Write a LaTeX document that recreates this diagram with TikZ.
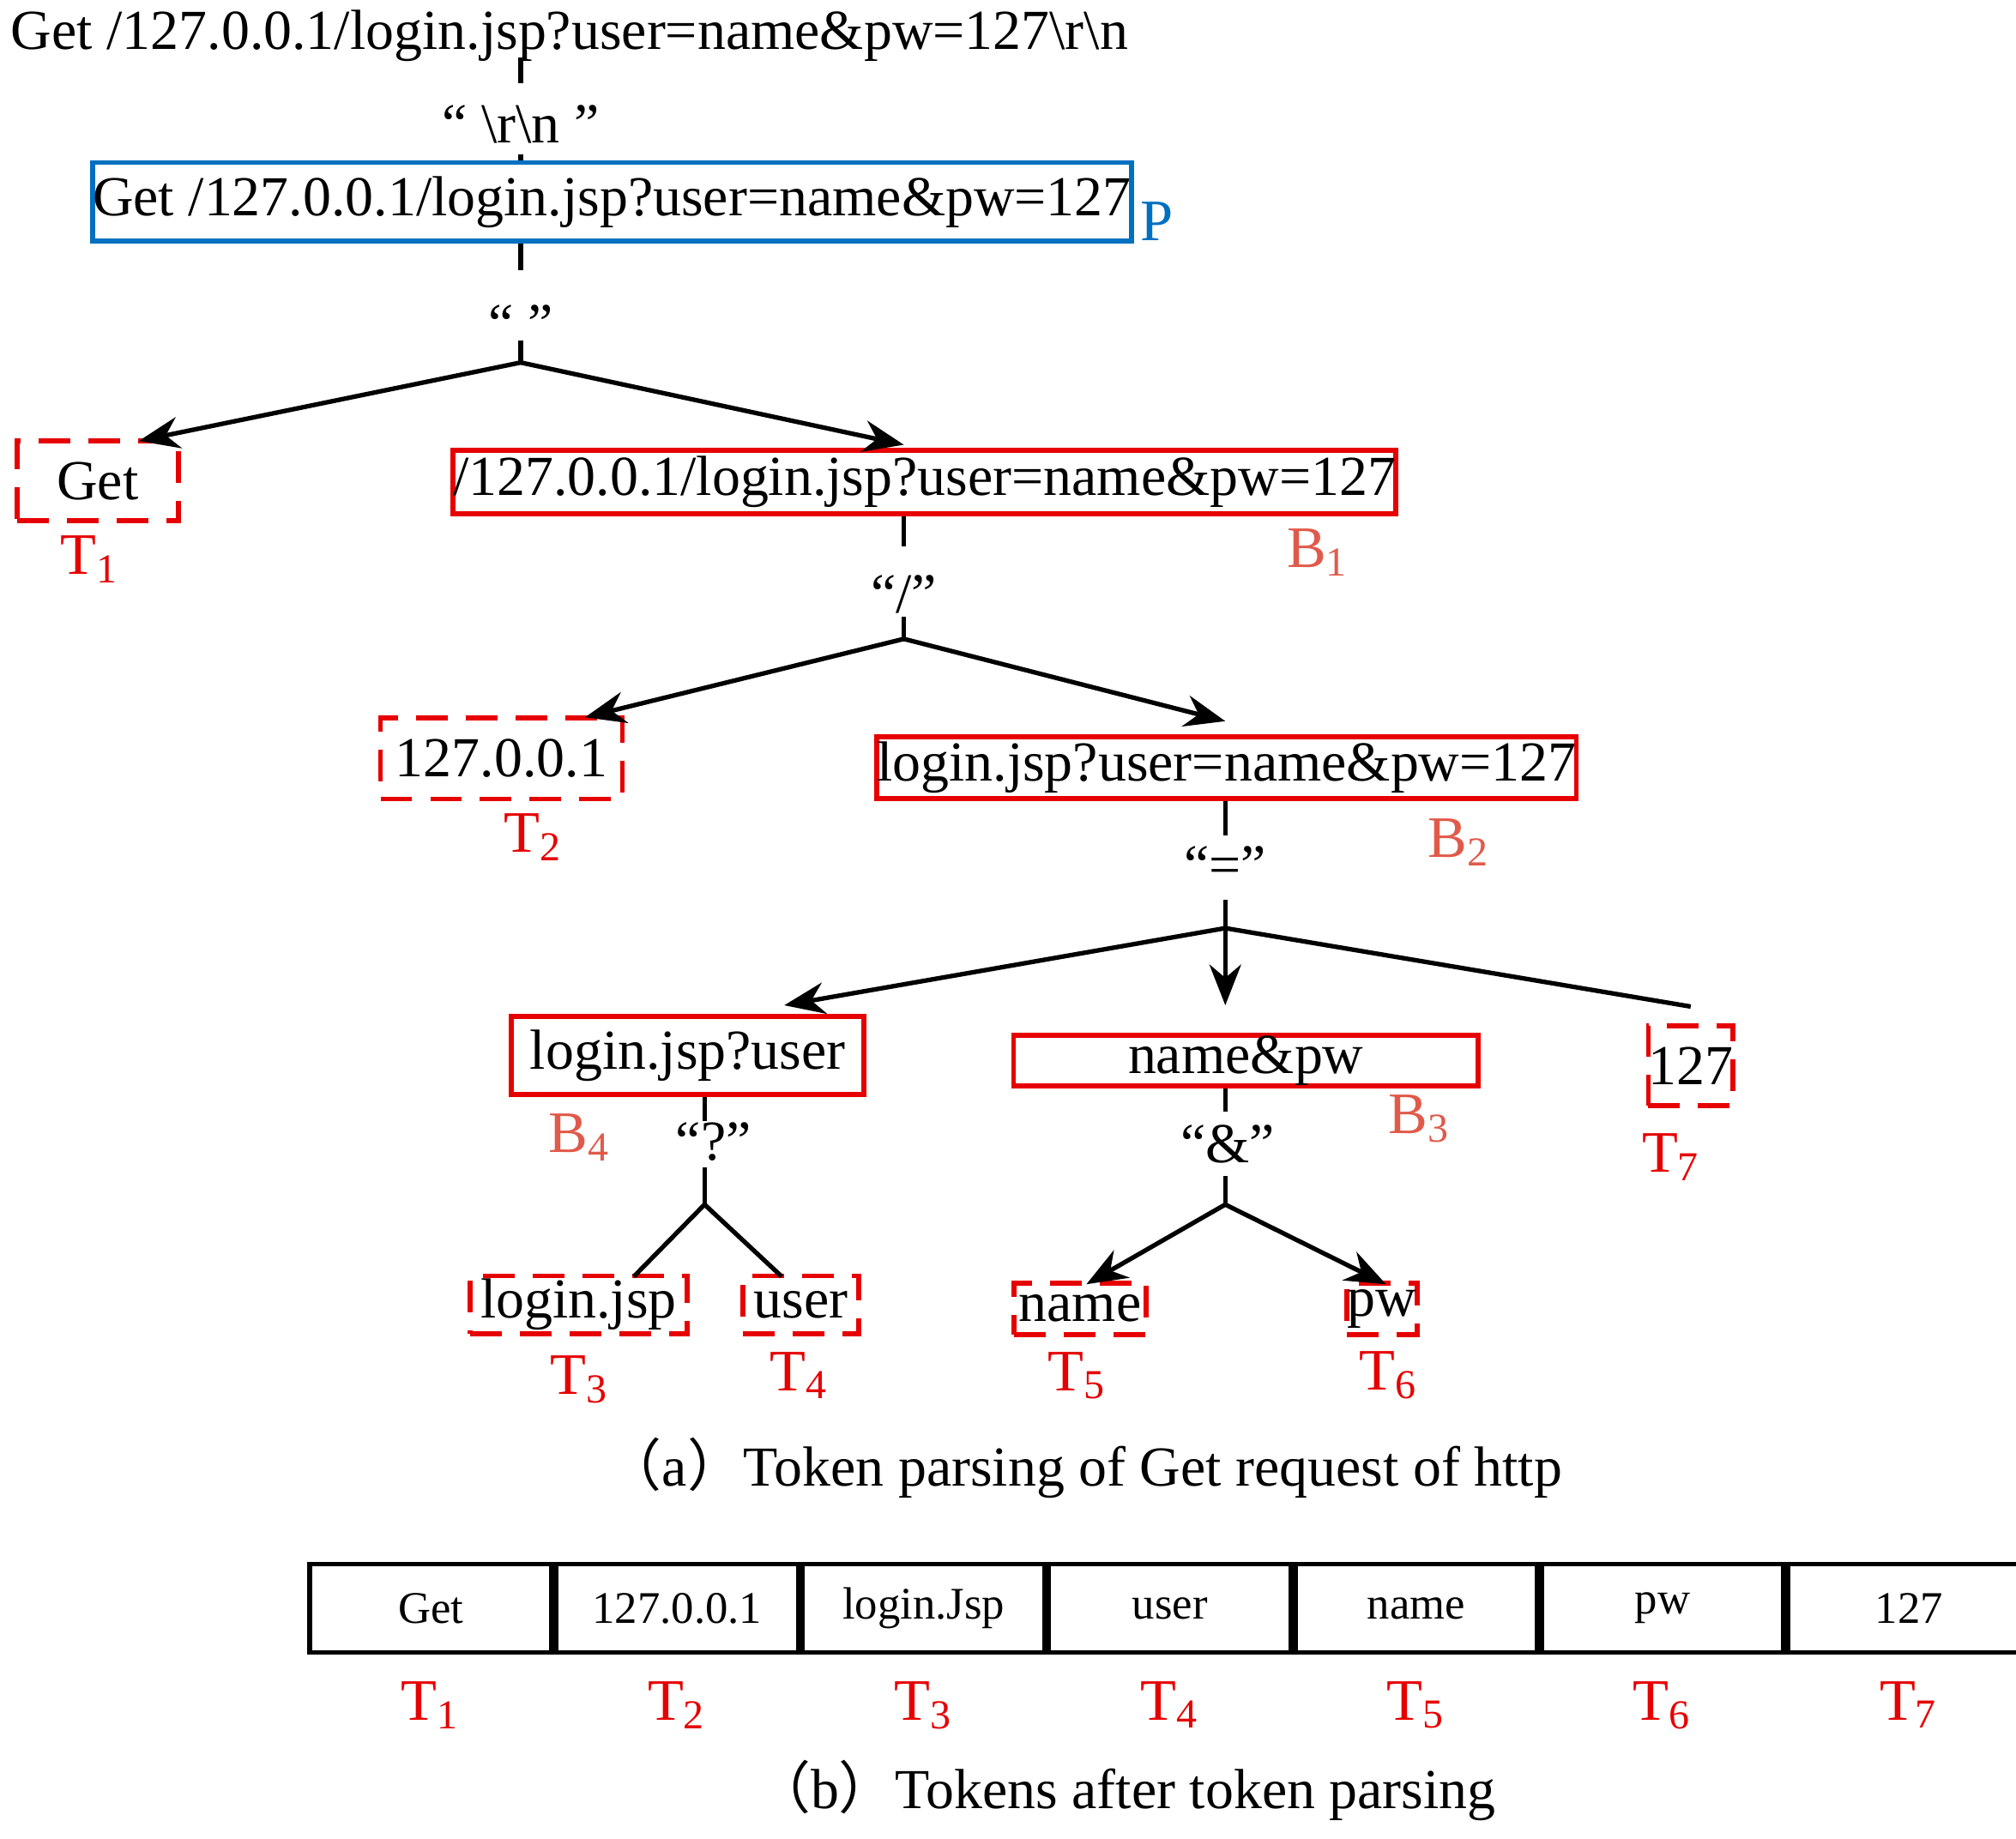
\documentclass[tikz,border=0pt]{standalone}
\usepackage{fontspec}
\setmainfont{Liberation Serif}
\newfontfamily\cjkfont{Noto Sans CJK SC}
\usetikzlibrary{positioning, arrows.meta, calc}
\definecolor{tokred}{HTML}{E60000}
\definecolor{brred}{HTML}{E05A4A}
\definecolor{pblue}{HTML}{0070C0}
\tikzset{
  txt/.style={inner sep=0pt, font=\fontsize{12.5}{14}\selectfont},
  tok/.style={draw=tokred, dashed, dash pattern=on 7pt off 4pt, line width=1.1pt, inner sep=0pt, font=\fontsize{12.5}{14}\selectfont},
  blk/.style={draw=tokred, line width=1.1pt, inner sep=0pt, font=\fontsize{12.5}{14}\selectfont},
  tlab/.style={text=tokred, inner sep=0pt, font=\fontsize{13}{14}\selectfont},
  blab/.style={text=brred, inner sep=0pt, font=\fontsize{13}{14}\selectfont},
  cell/.style={draw, line width=1pt, minimum width=1.88cm, minimum height=0.69cm, inner sep=0pt, font=\fontsize{10}{12}\selectfont},
  arr/.style={-{Stealth[length=9pt, width=7pt]}, line width=1pt},
  seg/.style={line width=1pt}
}
\begin{document}
\begin{tikzpicture}[x=0.01cm, y=-0.01cm]
\useasboundingbox (0,0) rectangle (1568,1430);
% request line and split on \r\n
\node[txt] (req) at (443,28) {Get /127.0.0.1/login.jsp?user=name\&pw=127\textbackslash r\textbackslash n};
\node[txt] (sepA) at (405,97) {“ \textbackslash r\textbackslash n ”};
\node[draw=pblue, line width=1.1pt, minimum width=7.84cm, minimum height=0.61cm, inner sep=0pt, font=\fontsize{12.5}{14}\selectfont] (pkt) at (476,157) {Get /127.0.0.1/login.jsp?user=name\&pw=127};
\node[text=pblue, font=\fontsize{13}{14}\selectfont] (plab) at (900,172) {P};
\draw[seg] (405,45) -- (405,65);
\draw[seg] (405,120) -- (pkt.north -| 405,0);
\draw[seg] (pkt.south -| 405,0) -- (405,210);
% split on space
\node[txt] (sepB) at (405,252) {“ ”};
\coordinate (jB) at (405,282);
\draw[seg] (405,265) -- (jB);
\node[tok, minimum width=1.25cm, minimum height=0.62cm] (get) at (76,374) {Get};
\node[blk, minimum width=7.06cm, minimum height=0.49cm] (b1) at (719,375) {/127.0.0.1/login.jsp?user=name\&pw=127};
\node[tlab] (t1) at (70,435) {T\textsubscript{1}};
\node[blab] (b1lab) at (1025,430) {B\textsubscript{1}};
\coordinate (aGet) at (108,343);
\coordinate (aB1) at (703,346);
\draw[arr] (jB) -- (aGet);
\draw[arr] (jB) -- (aB1);
% split on /
\node[txt] (sepC) at (703,462) {“/”};
\coordinate (jC) at (703,497);
\draw[seg] (b1.south -| 703,0) -- (703,425);
\draw[seg] (703,480) -- (jC);
\node[tok, minimum width=1.88cm, minimum height=0.63cm] (ip) at (390,590) {127.0.0.1};
\node[blk, minimum width=5.18cm, minimum height=0.48cm] (b2) at (954,597) {login.jsp?user=name\&pw=127};
\node[tlab] (t2) at (415,651) {T\textsubscript{2}};
\node[blab] (b2lab) at (1135,655) {B\textsubscript{2}};
\coordinate (aIp) at (455,558);
\coordinate (aB2) at (953,561);
\draw[arr] (jC) -- (aIp);
\draw[arr] (jC) -- (aB2);
% split on =
\node[txt] (sepD) at (953,673) {“=”};
\coordinate (jD) at (953,722);
\draw[seg] (b2.south -| 953,0) -- (953,650);
\draw[seg] (953,700) -- (jD);
\node[blk, minimum width=2.74cm, minimum height=0.61cm] (b4) at (535,821) {login.jsp?user};
\node[blk, minimum width=3.61cm, minimum height=0.39cm] (b3) at (969,825) {name\&pw};
\node[tok, minimum width=0.63cm, minimum height=0.62cm] (t7box) at (1315,829) {127};
\node[blab] (b4lab) at (451,885) {B\textsubscript{4}};
\node[blab] (b3lab) at (1104,870) {B\textsubscript{3}};
\node[tlab] (t7) at (1300,900) {T\textsubscript{7}};
\coordinate (aB4) at (610,782);
\coordinate (aB3) at (953,782);
\coordinate (aT7) at (1315,783);
\draw[arr] (jD) -- (aB4);
\draw[arr] (jD) -- (aB3);
\draw[seg] (jD) -- (aT7);
% split on ?
\node[txt] (sepE) at (555,888) {“?”};
\coordinate (jE) at (548,937);
\draw[seg] (b4.south -| 548,0) -- (548,872);
\draw[seg] (548,908) -- (jE);
\node[tok, minimum width=1.69cm, minimum height=0.45cm] (lj) at (450,1015) {login.jsp};
\node[tok, minimum width=0.90cm, minimum height=0.45cm] (us) at (623,1015) {user};
\node[tlab] (t3) at (451,1073) {T\textsubscript{3}};
\node[tlab] (t4) at (622,1070) {T\textsubscript{4}};
\coordinate (eLj) at (493,993);
\coordinate (eUs) at (608,993);
\draw[seg] (jE) -- (eLj);
\draw[seg] (jE) -- (eUs);
% split on &
\node[txt] (sepF) at (955,890) {“\&”};
\coordinate (jF) at (953,937);
\draw[seg] (b3.south -| 953,0) -- (953,865);
\draw[seg] (953,915) -- (jF);
\node[tok, minimum width=1.03cm, minimum height=0.40cm] (nm) at (840,1018) {name};
\node[tok, minimum width=0.55cm, minimum height=0.40cm] (pw) at (1075,1018) {pw};
\node[tlab] (t5) at (838,1070) {T\textsubscript{5}};
\node[tlab] (t6) at (1080,1070) {T\textsubscript{6}};
\coordinate (aNm) at (845,999);
\coordinate (aPw) at (1078,999);
\draw[arr] (jF) -- (aNm);
\draw[arr] (jF) -- (aPw);
% caption (a)
\node[txt] (capA) at (843,1142) {{\cjkfont （}a{\cjkfont ）}Token parsing of Get request of http};
% token table
\node[cell] (c1) at (335,1251) {Get};
\node[cell, right=0pt of c1] (c2) {127.0.0.1};
\node[cell, right=0pt of c2] (c3) {login.Jsp};
\node[cell, right=0pt of c3] (c4) {user};
\node[cell, right=0pt of c4] (c5) {name};
\node[cell, right=0pt of c5] (c6) {pw};
\node[cell, right=0pt of c6] (c7) {127};
\foreach \i in {1,...,7}
  \node[tlab, below=0.2cm of c\i] (tt\i) {T\textsubscript{\i}};
\node[txt] (capB) at (875,1393) {{\cjkfont （}b{\cjkfont ）}Tokens after token parsing};
\end{tikzpicture}
\end{document}
